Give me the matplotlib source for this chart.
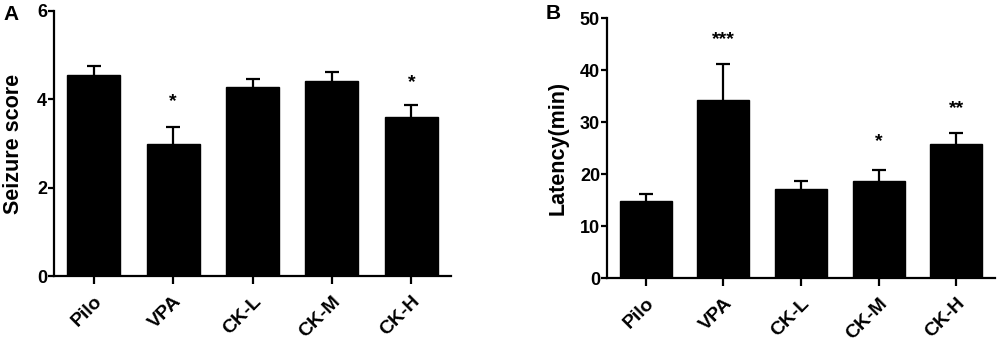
import matplotlib
matplotlib.use("Agg")
import matplotlib.pyplot as plt
import numpy as np

plt.rcParams['font.family'] = ['Liberation Sans', 'DejaVu Sans']
plt.rcParams['font.weight'] = 'bold'

groups = ["Pilo", "VPA", "CK-L", "CK-M", "CK-H"]
seizure_mean = [4.55, 2.99, 4.28, 4.42, 3.59]
seizure_err = [0.21, 0.38, 0.18, 0.20, 0.28]
seizure_sig = ["", "*", "", "", "*"]
seizure_sig_y = [None, 3.94, None, None, 4.37]

latency_mean = [14.9, 34.2, 17.2, 18.7, 25.8]
latency_err = [1.2, 6.9, 1.4, 2.1, 2.1]
latency_sig = ["", "***", "", "*", "**"]
latency_sig_y = [None, 45.8, None, 26.3, 32.6]

fig = plt.figure(figsize=(10, 3.43), dpi=100)
axA = fig.add_axes([0.054, 0.195, 0.397, 0.773])
axB = fig.add_axes([0.607, 0.189, 0.388, 0.758])


def draw(ax, means, errs, sigs, sig_y, ylim, yticks, ylabel, labelpad):
    x = np.arange(len(groups))
    ax.bar(x, means, width=0.67, color='black', edgecolor='black', zorder=2)
    eb = ax.errorbar(x, means, yerr=[np.zeros(len(errs)), errs], fmt='none',
                     ecolor='black', elinewidth=1.6, capsize=5, capthick=1.6, zorder=1)
    caps = eb[1]
    if len(caps) == 2:
        caps[0].set_visible(False)
    for xi, s, sy in zip(x, sigs, sig_y):
        if s:
            ax.text(xi, sy, s, ha='center', va='center', fontsize=14, fontweight='bold')
    ax.set_xlim(-0.5, 4.5)
    ax.set_ylim(*ylim)
    ax.set_yticks(yticks)
    ax.set_xticks(x)
    ax.set_xticklabels(groups, rotation=45, ha='right', rotation_mode='anchor',
                       fontsize=14, fontweight='bold')
    for lab in ax.get_yticklabels():
        lab.set_fontsize(13)
        lab.set_fontweight('bold')
    ax.set_ylabel(ylabel, fontsize=15.5, fontweight='bold', labelpad=labelpad)
    for sp in ['top', 'right']:
        ax.spines[sp].set_visible(False)
    for sp in ['left', 'bottom']:
        ax.spines[sp].set_linewidth(1.6)
    ax.tick_params(axis='y', length=4, width=1.6, pad=1)
    ax.tick_params(axis='x', length=6, width=1.6, pad=6)


draw(axA, seizure_mean, seizure_err, seizure_sig, seizure_sig_y, (0, 6), [0, 2, 4, 6], "Seizure score", 9)
draw(axB, latency_mean, latency_err, latency_sig, latency_sig_y, (0, 50), [0, 10, 20, 30, 40, 50], "Latency(min)", 8)

fig.text(0.003, 0.958, "A", fontsize=15, fontweight='bold', va='center', ha='left')
fig.text(0.546, 0.962, "B", fontsize=15, fontweight='bold', va='center', ha='left')

fig.savefig("out.png", dpi=100)
